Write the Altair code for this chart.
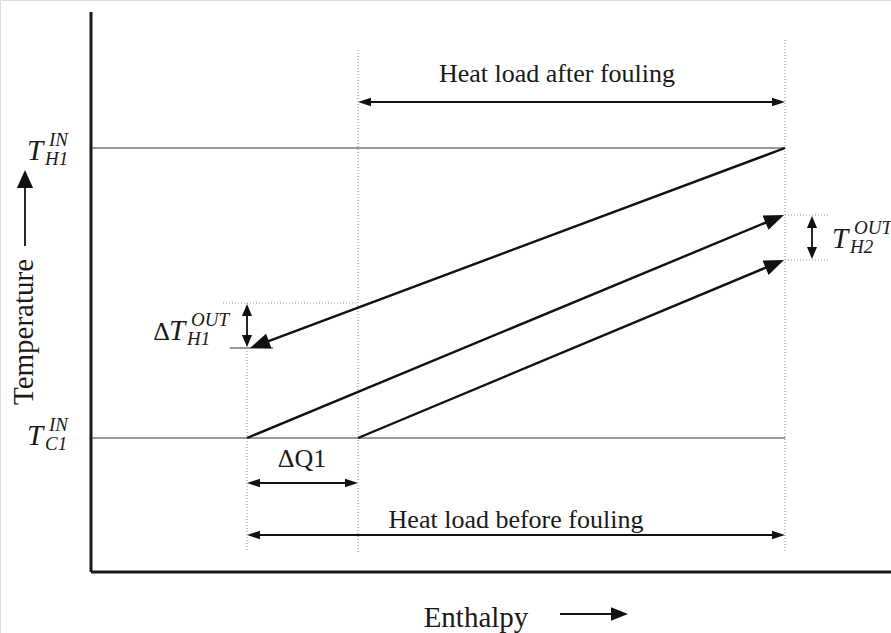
import math
import altair as alt
import pandas as pd

# ---------------- diagram values (x = enthalpy units, y = temperature units) -------------
axis_len_x = 800
axis_len_y = 560
Q_start_before = 156      # cold stream starts (before fouling)
Q_start_after = 267       # cold stream starts (after fouling)
Q_end = 694               # end of heat load
T_H1_IN = 424
T_C1_IN = 134
T_H1_OUT = 224            # hot outlet (arrow tip)
T_H1_OUT_fouled = 269     # dotted reference level
T_cold_out_before = 357
T_cold_out_after = 312
dotted_bottom = 20
dotted_top_after = 522
dotted_top_end = 532

# label texts
heat_after_label = "Heat load after fouling"
heat_before_label = "Heat load before fouling"
dq_label = "ΔQ1"
x_title = "Enthalpy"
y_title = "Temperature"
math_main = ["T", "T", "T", "T"]
math_sup = ["IN", "IN", "OUT", "OUT"]
math_sub = ["H1", "C1", "H1", "H2"]
math_x = [-64, -64, 78, 741]
math_y = [412, 127, 232, 324]

FONT = "Liberation Serif"
INK = "#1a1a1a"
X = alt.X("x:Q", scale=alt.Scale(domain=[-91, 800], nice=False, zero=False), axis=None)
Y = alt.Y("y:Q", scale=alt.Scale(domain=[-61, 572], nice=False, zero=False), axis=None)


def segs(rows):
    return pd.DataFrame(rows, columns=["x", "y", "x2", "y2"])


def rules(df, **kw):
    return alt.Chart(df).mark_rule(**kw).encode(x=X, y=Y, x2="x2:Q", y2="y2:Q")


# axes
axes_df = segs([(0, 0, 0, axis_len_y), (0, 0, axis_len_x, 0)])
# thin solid level lines
thin_df = segs([
    (0, T_H1_IN, Q_end, T_H1_IN),
    (0, T_C1_IN, Q_end, T_C1_IN),
    (139, T_H1_OUT, 182, T_H1_OUT),
])
# dotted guides
dot_df = segs([
    (Q_start_before, T_H1_OUT_fouled, Q_start_before, dotted_bottom),
    (Q_start_after, dotted_top_after, Q_start_after, dotted_bottom),
    (Q_end, dotted_top_end, Q_end, dotted_bottom),
    (132, T_H1_OUT_fouled, Q_start_after, T_H1_OUT_fouled),
    (Q_end, T_cold_out_before, 739, T_cold_out_before),
    (Q_end, T_cold_out_after, 739, T_cold_out_after),
])

# arrows: (x1, y1, x2, y2, double, head_length, kind, width)
arrow_rows = [
    (Q_end, T_H1_IN, 159, T_H1_OUT, False, 20, "wide", 2.4),
    (Q_start_before, T_C1_IN, Q_end - 1, T_cold_out_before, False, 20, "wide", 2.4),
    (Q_start_after, T_C1_IN, Q_end - 1, T_cold_out_after, False, 20, "wide", 2.4),
    (Q_start_after, 470, Q_end, 470, True, 13, "slim", 1.8),
    (Q_start_before, 37, Q_end, 37, True, 13, "slim", 1.8),
    (Q_start_before, 89, Q_start_after, 89, True, 13, "slim", 1.8),
    (Q_start_before, 268, Q_start_before, 225, True, 12, "mid", 1.8),
    (721, 356, 721, 313, True, 12, "mid", 1.8),
    (469, -42, 537, -42, False, 17, "wide", 1.8),
    (-66, 326, -66, 402, False, 18, "fat", 1.8),
]

shaft_rows, head_rows = [], []
for x1, y1, x2, y2, dbl, L, kind, w in arrow_rows:
    dx, dy = x2 - x1, y2 - y1
    n = math.hypot(dx, dy)
    ux, uy = dx / n, dy / n
    ang = math.degrees(math.atan2(dx, dy)) % 360
    sx1, sy1 = x1, y1
    if dbl:
        sx1, sy1 = x1 + ux * L * 0.6, y1 + uy * L * 0.6
        head_rows.append((x1, y1, (ang + 180) % 360, L, kind))
    sx2, sy2 = x2 - ux * L * 0.6, y2 - uy * L * 0.6
    head_rows.append((x2, y2, ang, L, kind))
    shaft_rows.append((sx1, sy1, sx2, sy2, w))

shaft_df = pd.DataFrame(shaft_rows, columns=["x", "y", "x2", "y2", "w"])
head_df = pd.DataFrame(head_rows, columns=["x", "y", "angle", "L", "kind"])
head_df["size"] = 4 * head_df["L"] ** 2

SHAPES = {
    "wide": "M0,0L-0.39,1L0.39,1Z",
    "slim": "M0,0L-0.33,1L0.33,1Z",
    "mid": "M0,0L-0.42,1L0.42,1Z",
    "fat": "M0,0L-0.45,1L0.45,1Z",
}

layers = [
    rules(axes_df, color=INK, strokeWidth=3),
    rules(thin_df, color="#333333", strokeWidth=1),
    rules(dot_df, color="#9a9a9a", strokeWidth=1.2, strokeDash=[1, 2]),
    alt.Chart(shaft_df).mark_rule(color="#111", strokeCap="butt").encode(
        x=X, y=Y, x2="x2:Q", y2="y2:Q", strokeWidth=alt.StrokeWidth("w:Q", scale=None)
    ),
]
for kind, path in SHAPES.items():
    layers.append(
        alt.Chart(head_df[head_df["kind"] == kind]).mark_point(
            shape=path, filled=True, color="#111", opacity=1, strokeWidth=0
        ).encode(
            x=X, y=Y,
            angle=alt.Angle("angle:Q", scale=None),
            size=alt.Size("size:Q", scale=None),
        )
    )

# plain texts
plain_df = pd.DataFrame({
    "x": [466, 425, 211],
    "y": [490, 44, 105],
    "t": [heat_after_label, heat_before_label, dq_label],
})
layers.append(
    alt.Chart(plain_df).mark_text(font=FONT, fontSize=26, color=INK, baseline="alphabetic").encode(
        x=X, y=Y, text="t:N"
    )
)
xtitle_df = pd.DataFrame({"x": [385], "y": [-55], "t": [x_title]})
layers.append(
    alt.Chart(xtitle_df).mark_text(font=FONT, fontSize=29, color=INK, baseline="alphabetic").encode(
        x=X, y=Y, text="t:N"
    )
)
ytitle_df = pd.DataFrame({"x": [-67], "y": [240], "t": [y_title]})
layers.append(
    alt.Chart(ytitle_df).mark_text(font=FONT, fontSize=29, color=INK, angle=270,
                                   baseline="middle", align="center").encode(x=X, y=Y, text="t:N")
)

# math labels
math_df = pd.DataFrame({"x": math_x, "y": math_y, "m": math_main, "sup": math_sup, "sub": math_sub})
layers.append(
    alt.Chart(math_df).mark_text(font=FONT, fontSize=29, fontStyle="italic", color=INK,
                                 align="left", baseline="alphabetic").encode(x=X, y=Y, text="m:N")
)
layers.append(
    alt.Chart(math_df).mark_text(font=FONT, fontSize=19, fontStyle="italic", color=INK,
                                 align="left", baseline="alphabetic", dx=22, dy=-14).encode(x=X, y=Y, text="sup:N")
)
layers.append(
    alt.Chart(math_df).mark_text(font=FONT, fontSize=19, fontStyle="italic", color=INK,
                                 align="left", baseline="alphabetic", dx=18, dy=5).encode(x=X, y=Y, text="sub:N")
)
delta_df = pd.DataFrame({"x": [math_x[2]], "y": [math_y[2]], "t": ["Δ"]})
layers.append(
    alt.Chart(delta_df).mark_text(font=FONT, fontSize=26, color=INK, align="right",
                                  baseline="alphabetic", dx=1).encode(x=X, y=Y, text="t:N")
)

chart = alt.layer(*layers).properties(
    width=891, height=633, padding=0, autosize=alt.AutoSizeParams(type="none")
).configure_view(strokeWidth=0).configure(background="white")

chart.save("out.html", embed_options={"renderer": "svg", "actions": False})
